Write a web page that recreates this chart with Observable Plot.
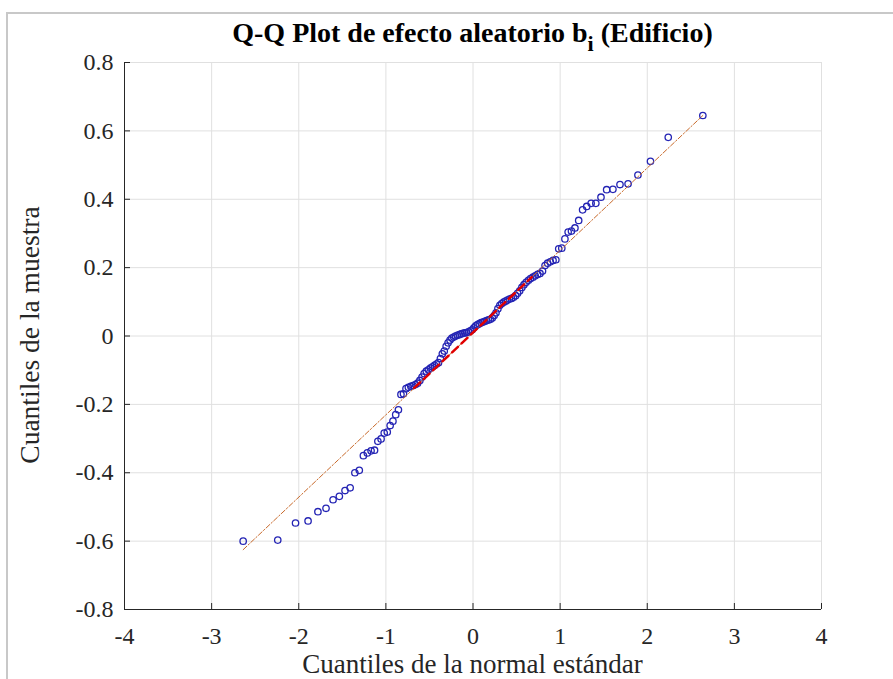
<!DOCTYPE html>
<html>
<head>
<meta charset="utf-8">
<script src="https://cdn.jsdelivr.net/npm/d3@7"></script>
<script src="https://cdn.jsdelivr.net/npm/@observablehq/plot@0.6"></script>
<style>
  html, body { margin: 0; padding: 0; background: #ffffff; }
  #wrap { position: relative; width: 893px; height: 679px; overflow: hidden; background: #fff; font-family: "Liberation Serif", "Times New Roman", serif; }
  #frame { position: absolute; left: 6px; top: 12px; right: -4px; bottom: -4px; border-left: 2px solid #c8c8c8; border-top: 2px solid #c8c8c8; pointer-events: none; }
  #title { position: absolute; left: 124px; width: 697px; top: 19px; text-align: center; font-family: "Liberation Serif", serif; font-weight: 700; font-size: 28px; color: #000; line-height: 1; }
  #title sub { font-size: 22px; vertical-align: -0.42em; line-height: 0; }
  #xlabel { position: absolute; left: 124px; width: 697px; top: 653px; text-align: center; font-size: 27px; color: #262626; line-height: 22px; }
  #ylabel { position: absolute; left: 30px; top: 335px; transform: translate(-50%, -50%) rotate(-90deg); white-space: nowrap; font-size: 27.5px; color: #262626; line-height: 22px; }
  #chart { position: absolute; left: 0; top: 0; }
  #chart svg text { font-family: "Liberation Serif", "Times New Roman", serif; }
</style>
</head>
<body>
<div id="wrap">
  <div id="chart"></div>
  <div id="frame"></div>
  <div id="title">Q-Q Plot de efecto aleatorio b<sub>i</sub> (Edificio)</div>
  <div id="xlabel">Cuantiles de la normal estándar</div>
  <div id="ylabel">Cuantiles de la muestra</div>
</div>
<script>
// Theoretical standard-normal quantiles (x) for the 120 sorted observations
const normalQuantiles = [
  -2.638,-2.241,-2.037,-1.893,-1.780,-1.687,-1.606,-1.534,-1.469,-1.410,
  -1.356,-1.305,-1.258,-1.213,-1.170,-1.130,-1.092,-1.055,-1.019,-0.984,
  -0.951,-0.919,-0.887,-0.856,-0.827,-0.798,-0.769,-0.742,-0.714,-0.688,
  -0.661,-0.636,-0.610,-0.585,-0.561,-0.536,-0.512,-0.489,-0.465,-0.442,
  -0.419,-0.396,-0.374,-0.352,-0.330,-0.308,-0.286,-0.264,-0.243,-0.221,
  -0.200,-0.179,-0.157,-0.136,-0.115,-0.094,-0.073,-0.052,-0.031,-0.010,
   0.010, 0.031, 0.052, 0.073, 0.094, 0.115, 0.136, 0.157, 0.179, 0.200,
   0.221, 0.243, 0.264, 0.286, 0.308, 0.330, 0.352, 0.374, 0.396, 0.419,
   0.442, 0.465, 0.489, 0.512, 0.536, 0.561, 0.585, 0.610, 0.636, 0.661,
   0.688, 0.714, 0.742, 0.769, 0.798, 0.827, 0.856, 0.887, 0.919, 0.951,
   0.984, 1.019, 1.055, 1.092, 1.130, 1.170, 1.213, 1.258, 1.305, 1.356,
   1.410, 1.469, 1.534, 1.606, 1.687, 1.780, 1.893, 2.037, 2.241, 2.638
];
// Sorted sample quantiles of the random effect b_i (y)
const sampleQuantiles = [
  -0.600,-0.597,-0.547,-0.541,-0.514,-0.504,-0.479,-0.469,-0.452,-0.444,
  -0.400,-0.393,-0.350,-0.342,-0.336,-0.334,-0.308,-0.301,-0.284,-0.281,
  -0.262,-0.249,-0.230,-0.216,-0.171,-0.169,-0.154,-0.150,-0.147,-0.145,
  -0.142,-0.138,-0.130,-0.120,-0.110,-0.103,-0.099,-0.094,-0.090,-0.086,
  -0.082,-0.078,-0.066,-0.052,-0.044,-0.030,-0.020,-0.012,-0.006,-0.003,
   0.000, 0.002, 0.004, 0.006, 0.008, 0.009, 0.010, 0.012, 0.015, 0.018,
   0.024, 0.030, 0.033, 0.036, 0.039, 0.041, 0.043, 0.045, 0.047, 0.049,
   0.053, 0.060, 0.068, 0.080, 0.090, 0.095, 0.099, 0.102, 0.105, 0.108,
   0.110, 0.113, 0.118, 0.125, 0.132, 0.142, 0.150, 0.157, 0.163, 0.168,
   0.172, 0.176, 0.180, 0.183, 0.190, 0.206, 0.213, 0.217, 0.221, 0.223,
   0.255, 0.257, 0.284, 0.304, 0.307, 0.316, 0.338, 0.369, 0.379, 0.388,
   0.388, 0.406, 0.428, 0.429, 0.443, 0.445, 0.471, 0.511, 0.581, 0.645
];
// Reference line: extended (dash-dot) over data range, and quartile segment (thick dashed)
const refLineX = [-2.638, 2.638];
const refLineY = [-0.625, 0.645];
const quartileLineX = [-0.674, 0.674];
const quartileLineY = [-0.152, 0.172];
// Axis ticks
const xTicks = [-4, -3, -2, -1, 0, 1, 2, 3, 4];
const yTicks = [-0.8, -0.6, -0.4, -0.2, 0, 0.2, 0.4, 0.6, 0.8];

const points = normalQuantiles.map((x, i) => ({x, y: sampleQuantiles[i]}));
const refLine = refLineX.map((x, i) => ({x, y: refLineY[i]}));
const quartileLine = quartileLineX.map((x, i) => ({x, y: quartileLineY[i]}));

const fmtY = d => (d === 0 ? "0" : d.toFixed(1));
const fmtX = d => String(d);
const serif = "Liberation Serif";

const chart = Plot.plot({
  width: 893,
  height: 679,
  marginLeft: 124,
  marginRight: 72,
  marginTop: 62,
  marginBottom: 70,
  style: "font-family: 'Liberation Serif', serif; font-size: 24px; color: #262626; background: transparent; overflow: visible;",
  x: { domain: [-4, 4] },
  y: { domain: [-0.8, 0.8] },
  marks: [
    Plot.gridX(xTicks, { stroke: "#e0e0e0", strokeOpacity: 1, strokeWidth: 1 }),
    Plot.gridY(yTicks, { stroke: "#e0e0e0", strokeOpacity: 1, strokeWidth: 1 }),
    Plot.axisX(xTicks, { tickSize: -6, fill: "none", stroke: "#262626", label: null }),
    Plot.axisY(yTicks, { tickSize: -6, fill: "none", stroke: "#262626", label: null }),
    Plot.axisX(xTicks, { tickSize: 0, tickPadding: 17, tickFormat: fmtX, label: null, fill: "#262626", fontSize: 24, fontFamily: serif }),
    Plot.axisY(yTicks, { tickSize: 0, tickPadding: 11, tickFormat: fmtY, label: null, fill: "#262626", fontSize: 24, fontFamily: serif }),
    Plot.ruleY([-0.8], { stroke: "#262626", strokeWidth: 1 }),
    Plot.ruleX([-4], { stroke: "#262626", strokeWidth: 1 }),
    Plot.dot(points, { x: "x", y: "y", r: 3.2, fill: "none", stroke: "#2424b4", strokeWidth: 1.3 }),
    Plot.line(refLine, { x: "x", y: "y", stroke: "#c8692a", strokeWidth: 1, strokeDasharray: "5,2,1.5,2" }),
    Plot.line(quartileLine, { x: "x", y: "y", stroke: "#e00000", strokeWidth: 2.5, strokeDasharray: "8,5" })
  ]
});
document.getElementById("chart").appendChild(chart);
</script>
</body>
</html>
